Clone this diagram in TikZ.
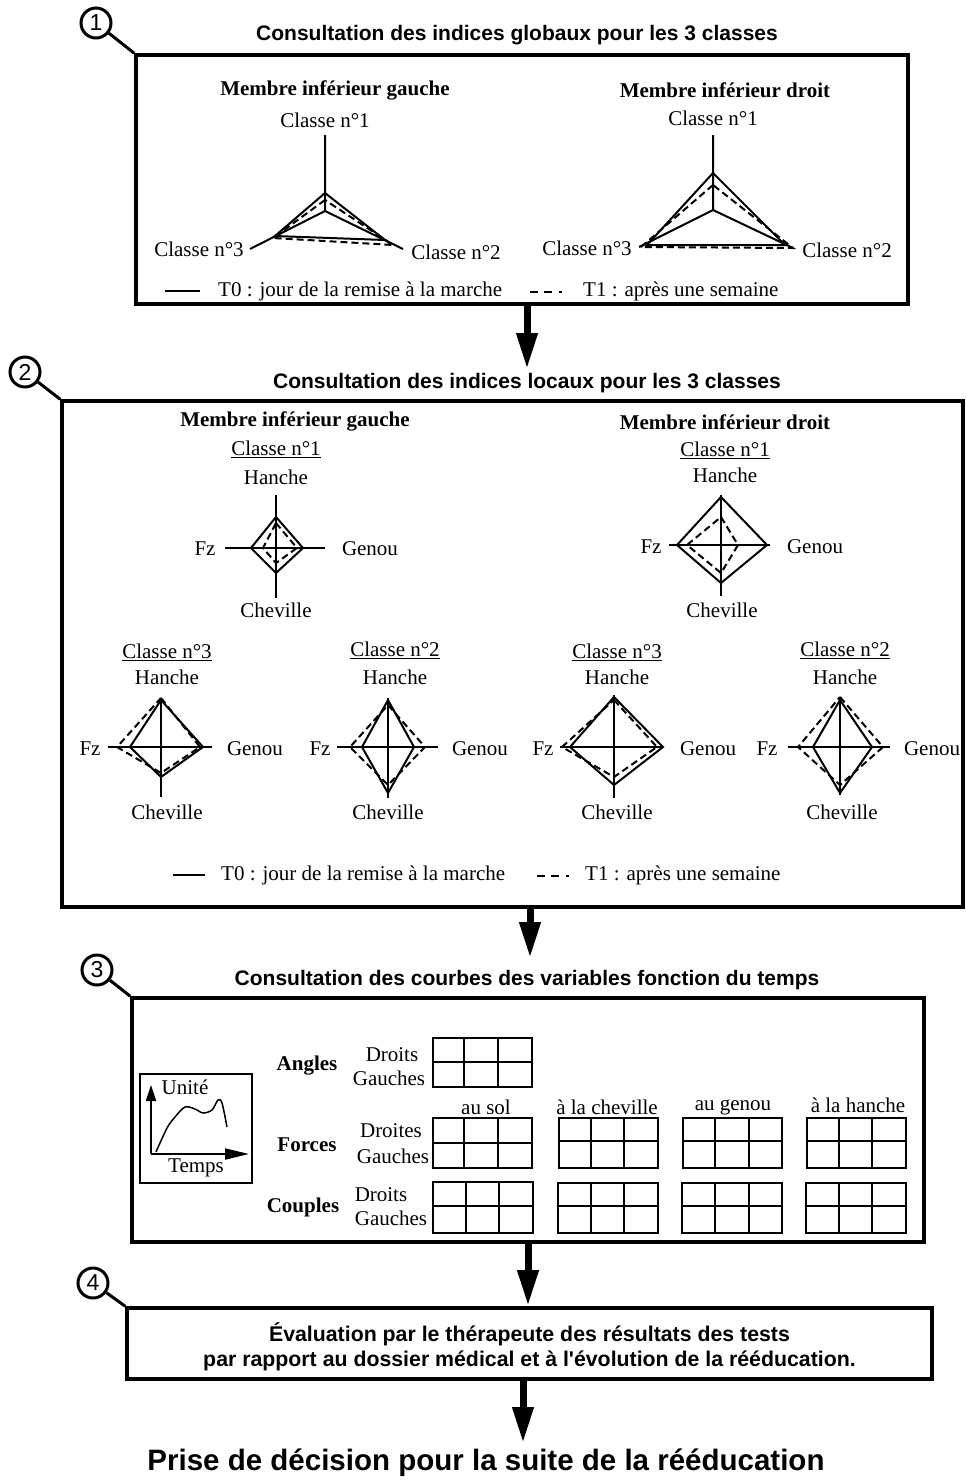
\documentclass[tikz,border=0pt]{standalone}
\usepackage{fontspec}
\setmainfont{Liberation Serif}
\setsansfont{Liberation Sans}[Ligatures=TeXOff]
\usetikzlibrary{arrows.meta}
\tikzset{
  panel/.style={draw, line width=3.5pt, inner sep=0pt},
  ttl/.style={font=\sffamily\bfseries\fontsize{21}{25}\selectfont, inner sep=0pt},
  lbl/.style={font=\fontsize{21}{25}\selectfont, inner sep=0pt},
  blbl/.style={font=\bfseries\fontsize{21}{25}\selectfont, inner sep=0pt},
  num/.style={draw, circle, line width=3pt, minimum size=30pt, inner sep=0pt, font=\sffamily\fontsize{23}{26}\selectfont},
  lead/.style={line width=3pt},
  flow/.style={line width=7pt, -{Triangle[length=36pt,width=20pt]}},
  ax/.style={line width=2pt},
  tz/.style={line width=2pt, line join=miter},
  tw/.style={line width=2pt, dash pattern=on 7pt off 4pt},
  legdash/.style={line width=2pt, dash pattern=on 8pt off 6pt on 8pt off 7pt on 3pt off 20pt},
  gridline/.style={line width=2pt},
}
\newcommand\tablo[7]{\draw[gridline] (#1,#2) rectangle (#3,#4) (#5,#2) -- (#5,#4) (#6,#2) -- (#6,#4) (#1,#7) -- (#3,#7);}
\begin{document}
\begin{tikzpicture}[x=1pt,y=-1pt]
\useasboundingbox (0,0) rectangle (966,1483);

% ================= Panel 1 =================
\node[panel, minimum width=772pt, minimum height=249pt] (b1) at (522,179.5) {};
\node[num] (c1) at (96,23) {1};
\draw[lead] (c1) -- (b1.north west);
\node[ttl] (t1) at (517,35) {Consultation des indices globaux pour les 3 classes};

\node[blbl] (g1) at (335,90) {Membre inférieur gauche};
\node[lbl] (g1c1) at (325,120) {Classe n°1};
\node[lbl] (g1c3) at (199,249) {Classe n°3};
\node[lbl] (g1c2) at (456,252) {Classe n°2};
\draw[ax] (325,211) -- (325,135) (325,211) -- (250,249) (325,211) -- (403,249);
\draw[tz] (325,193) -- (275,236) -- (385,240) -- cycle;
\draw[tw] (325,200) -- (273,238) -- (393,245) -- cycle;

\node[blbl] (d1) at (725,90) {Membre inférieur droit};
\node[lbl] (d1c1) at (713,118) {Classe n°1};
\node[lbl] (d1c3) at (587,248) {Classe n°3};
\node[lbl] (d1c2) at (847,250) {Classe n°2};
\draw[ax] (713,210) -- (713,135) (713,210) -- (639,247) (713,210) -- (793,248);
\draw[tz] (713,173) -- (647,245) -- (785,245) -- cycle;
\draw[tw] (713,185) -- (641,247) -- (793,248) -- cycle;

\draw[ax] (165,291) -- (200,291);
\node[lbl, anchor=west] (l1a) at (218,291) {T0 : jour de la remise à la marche};
\draw[legdash] (530,292) -- (566,292);
\node[lbl, anchor=west] (l1b) at (583,291) {T1 : après une semaine};

% ================= Panel 2 =================
\node[panel, minimum width=901pt, minimum height=506pt] (b2) at (512.5,654) {};
\node[num] (c2) at (25,372) {2};
\draw[lead] (c2) -- (b2.north west);
\node[ttl] (t2) at (527,383) {Consultation des indices locaux pour les 3 classes};
\coordinate (a12) at (527,369);
\draw[flow] (b1.south -| a12) -- (a12);

\node[blbl] (g2) at (295,421) {Membre inférieur gauche};
\node[blbl] (d2) at (725,422) {Membre inférieur droit};

% left, classe 1
\node[lbl] (lc1) at (276,449) {\underline{Classe n°1}};
\node[lbl] (lc1h) at (276,477) {Hanche};
\node[lbl] (lc1f) at (205,549) {Fz};
\node[lbl] (lc1g) at (370,549) {Genou};
\node[lbl] (lc1c) at (276,610) {Cheville};
\draw[ax] (276,495) -- (276,598) (225,548) -- (325,548);
\draw[tz] (276,517) -- (303,548) -- (276,573) -- (251,548) -- cycle;
\draw[tw] (276,523) -- (297,548) -- (276,563) -- (263,548) -- cycle;

% right, classe 1
\node[lbl] (rc1) at (725,450) {\underline{Classe n°1}};
\node[lbl] (rc1h) at (725,475) {Hanche};
\node[lbl] (rc1f) at (651,547) {Fz};
\node[lbl] (rc1g) at (815,547) {Genou};
\node[lbl] (rc1c) at (722,610) {Cheville};
\draw[ax] (721,495) -- (721,596) (669,545) -- (770,545);
\draw[tz] (721,497) -- (767,545) -- (721,583) -- (677,545) -- cycle;
\draw[tw] (721,517) -- (738,545) -- (721,573) -- (687,545) -- cycle;

% left, classe 3
\node[lbl] (lc3) at (167,652) {\underline{Classe n°3}};
\node[lbl] (lc3h) at (167,677) {Hanche};
\node[lbl] (lc3f) at (90,749) {Fz};
\node[lbl] (lc3g) at (255,749) {Genou};
\node[lbl] (lc3c) at (167,812) {Cheville};
\draw[ax] (161,698) -- (161,797) (108,747) -- (212,747);
\draw[tz] (161,700) -- (203,747) -- (161,777) -- (130,747) -- cycle;
\draw[tw] (161,698) -- (200,747) -- (161,773) -- (117,747) -- cycle;

% left, classe 2
\node[lbl] (lc2) at (395,650) {\underline{Classe n°2}};
\node[lbl] (lc2h) at (395,677) {Hanche};
\node[lbl] (lc2f) at (320,749) {Fz};
\node[lbl] (lc2g) at (480,749) {Genou};
\node[lbl] (lc2c) at (388,812) {Cheville};
\draw[ax] (388,698) -- (388,798) (337,747) -- (438,747);
\draw[tz] (388,700) -- (414,747) -- (388,793) -- (362,747) -- cycle;
\draw[tw] (388,705) -- (425,747) -- (388,785) -- (350,747) -- cycle;

% right, classe 3
\node[lbl] (rc3) at (617,652) {\underline{Classe n°3}};
\node[lbl] (rc3h) at (617,677) {Hanche};
\node[lbl] (rc3f) at (543,749) {Fz};
\node[lbl] (rc3g) at (708,749) {Genou};
\node[lbl] (rc3c) at (617,812) {Cheville};
\draw[ax] (614,695) -- (614,798) (560,747) -- (663,747);
\draw[tz] (614,697) -- (663,747) -- (614,785) -- (570,747) -- cycle;
\draw[tw] (614,700) -- (657,747) -- (614,777) -- (562,747) -- cycle;

% right, classe 2
\node[lbl] (rc2) at (845,650) {\underline{Classe n°2}};
\node[lbl] (rc2h) at (845,677) {Hanche};
\node[lbl] (rc2f) at (767,749) {Fz};
\node[lbl] (rc2g) at (932,749) {Genou};
\node[lbl] (rc2c) at (842,812) {Cheville};
\draw[ax] (840,698) -- (840,795) (788,747) -- (890,747);
\draw[tz] (840,700) -- (872,747) -- (840,793) -- (813,747) -- cycle;
\draw[tw] (840,697) -- (883,747) -- (840,785) -- (798,747) -- cycle;

\draw[ax] (173,875) -- (205,875);
\node[lbl, anchor=west] (l2a) at (221,875) {T0 : jour de la remise à la marche};
\draw[legdash] (537,876) -- (572,876);
\node[lbl, anchor=west] (l2b) at (585,875) {T1 : après une semaine};

% ================= Panel 3 =================
\node[panel, minimum width=792pt, minimum height=244pt] (b3) at (528,1120) {};
\node[num] (c3) at (97,970) {3};
\draw[lead] (c3) -- (b3.north west);
\node[ttl] (t3) at (527,980) {Consultation des courbes des variables fonction du temps};
\coordinate (a23) at (530,958);
\draw[flow] (b2.south -| a23) -- (a23);

\node[draw, line width=2pt, minimum width=112pt, minimum height=109pt, inner sep=0pt] (gbox) at (196,1128.5) {};
\coordinate (orig) at (151,1154);
\draw[line width=2pt, -{Triangle[length=16pt,width=10pt]}] (orig) -- (151,1085);
\draw[line width=2pt, -{Triangle[length=24pt,width=11pt]}] (orig) -- (249,1154);
\draw[line width=1.5pt] plot[smooth] coordinates {(156,1152) (167,1128) (175,1117) (185,1107) (195,1109) (203,1113) (212,1110) (218,1100) (222,1103) (227,1127)};
\node[lbl] (unite) at (185,1087) {Unité};
\node[lbl] (temps) at (196,1168) {Temps};

\node[blbl] (angles) at (307,1066) {Angles};
\node[lbl] (ad) at (392,1055) {Droits};
\node[lbl] (ag) at (389,1078) {Gauches};
\node[blbl] (forces) at (307,1145) {Forces};
\node[lbl] (fd) at (391,1131) {Droites};
\node[lbl] (fg) at (393,1156) {Gauches};
\node[blbl] (couples) at (303,1207) {Couples};
\node[lbl] (cd) at (381,1195) {Droits};
\node[lbl] (cg) at (391,1218) {Gauches};

\node[lbl] (sol) at (486,1107) {au sol};
\node[lbl] (chev) at (607,1107) {à la cheville};
\node[lbl] (gen) at (733,1107) {au genou};
\node[lbl] (han) at (858,1105) {à la hanche};

\tablo{433}{1038}{532}{1087}{464}{498}{1062}
\tablo{433}{1118}{532}{1168}{464}{498}{1143}
\tablo{559}{1118}{658}{1168}{591}{624}{1141}
\tablo{683}{1118}{782}{1168}{715}{749}{1141}
\tablo{807}{1118}{906}{1168}{839}{872}{1141}
\tablo{433}{1182}{533}{1233}{466}{499}{1206}
\tablo{558}{1183}{658}{1233}{591}{624}{1206}
\tablo{682}{1183}{782}{1233}{715}{749}{1206}
\tablo{806}{1183}{906}{1233}{839}{872}{1206}

% ================= Panel 4 =================
\node[panel, minimum width=805pt, minimum height=71pt] (b4) at (529.5,1343.5) {};
\node[align=center, inner sep=0pt, font=\sffamily\bfseries\fontsize{21.3}{25}\selectfont] (b4t) at (529.5,1347)
      {Évaluation par le thérapeute des résultats des tests\\par rapport au dossier médical et à l'évolution de la rééducation.};
\node[num] (c4) at (93,1283) {4};
\draw[lead] (c4) -- (b4.north west);
\coordinate (a34) at (528,1306);
\draw[flow] (b3.south -| a34) -- (a34);

\node[font=\sffamily\bfseries\fontsize{29.5}{34}\selectfont, inner sep=0pt] (fin) at (486,1463) {Prise de décision pour la suite de la rééducation};
\coordinate (a4f) at (523,1443);
\draw[flow] (b4.south -| a4f) -- (a4f);
\end{tikzpicture}
\end{document}
